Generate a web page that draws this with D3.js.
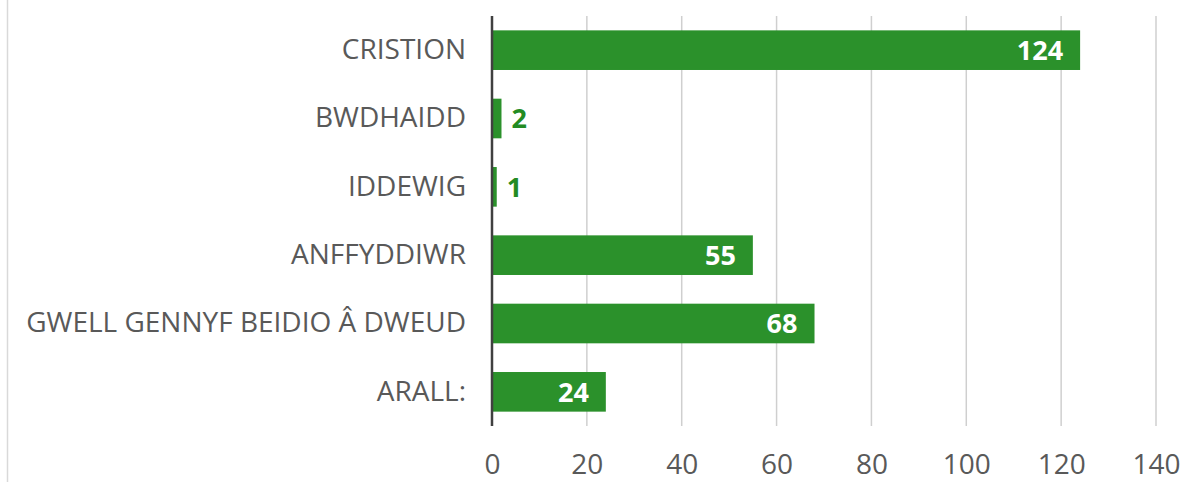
<!DOCTYPE html>
<html>
<head>
<meta charset="utf-8">
<script src="https://cdn.jsdelivr.net/npm/d3@7"></script>
<style>
  body { margin: 0; background: #fff; }
  text { font-family: "Open Sans", sans-serif; }
</style>
</head>
<body>
<div id="chart"></div>
<script>
// Data
const categories = ["CRISTION", "BWDHAIDD", "IDDEWIG", "ANFFYDDIWR", "GWELL GENNYF BEIDIO Â DWEUD", "ARALL:"];
const values = [124, 2, 1, 55, 68, 24];
const xTicks = [0, 20, 40, 60, 80, 100, 120, 140];

const W = 1187, H = 482;
const margin = { top: 16, right: 31, bottom: 56, left: 492 },
      width = W - margin.left - margin.right,
      height = H - margin.top - margin.bottom;

const root = d3.select("#chart")
    .append("svg")
    .attr("width", W)
    .attr("height", H)
    .style("background-color", "white");

// frame edge on the left
root.append("line")
    .attr("x1", 7.5).attr("x2", 7.5)
    .attr("y1", 0).attr("y2", H)
    .attr("stroke", "#d9d9d9")
    .attr("stroke-width", 1.5);

const svg = root.append("g")
    .attr("transform", `translate(${margin.left},${margin.top})`);

const x = d3.scaleLinear().domain([0, 140]).range([0, width]);
const y = d3.scaleBand().domain(categories).range([0, height])
    .paddingInner(0.42).paddingOuter(0.21);

// gridlines
svg.append("g")
    .selectAll("line")
    .data(xTicks.filter(d => d > 0))
    .join("line")
    .attr("x1", d => x(d)).attr("x2", d => x(d))
    .attr("y1", 0).attr("y2", height)
    .attr("stroke", "#cfcfcf")
    .attr("stroke-width", 1.5);

// x axis labels
const xAxis = svg.append("g")
    .attr("transform", `translate(0,${height})`)
    .call(d3.axisBottom(x).tickValues(xTicks).tickSize(0).tickPadding(28));
xAxis.select(".domain").remove();
xAxis.selectAll("text")
    .style("font-family", "'Open Sans', sans-serif")
    .style("font-size", "28px")
    .attr("fill", "#595959");

// bars
svg.selectAll("rect.bar")
    .data(values)
    .join("rect")
    .attr("class", "bar")
    .attr("x", 0)
    .attr("y", (d, i) => y(categories[i]))
    .attr("width", d => x(d))
    .attr("height", y.bandwidth())
    .attr("fill", "#2b912b");

// y axis (category labels)
const yAxis = svg.append("g")
    .call(d3.axisLeft(y).tickSize(0).tickPadding(26));
yAxis.select(".domain").remove();
yAxis.selectAll("text")
    .style("font-family", "'Open Sans', sans-serif")
    .style("font-size", "28px")
    .attr("fill", "#595959");

// zero line
svg.append("line")
    .attr("x1", x(0)).attr("x2", x(0))
    .attr("y1", 0).attr("y2", height)
    .attr("stroke", "#404040")
    .attr("stroke-width", 2.5);

// value labels
svg.selectAll("text.val")
    .data(values)
    .join("text")
    .attr("class", "val")
    .attr("x", d => d > 10 ? x(d) - 17 : x(d) + 10)
    .attr("y", (d, i) => y(categories[i]) + y.bandwidth() / 2)
    .attr("dy", "0.36em")
    .attr("text-anchor", d => d > 10 ? "end" : "start")
    .style("font-size", "27px")
    .style("font-weight", "bold")
    .attr("fill", d => d > 10 ? "#ffffff" : "#238b23")
    .text(d => d);
</script>
</body>
</html>
